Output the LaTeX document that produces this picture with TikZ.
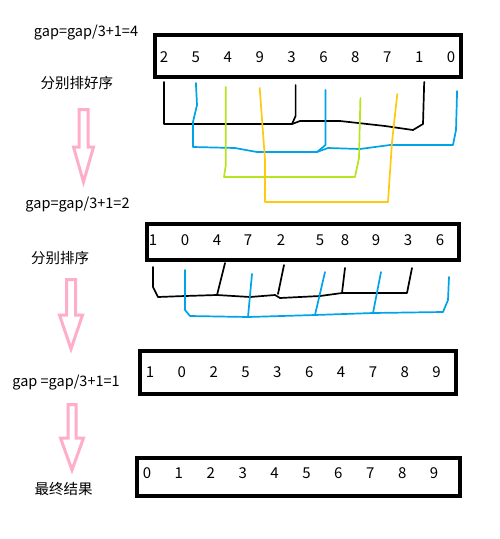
\documentclass[tikz,border=0pt]{standalone}
\usepackage{fontspec}
\setmainfont{Noto Sans CJK SC}
\definecolor{lineblue}{HTML}{00A2E8}
\definecolor{linegreen}{HTML}{B5E61D}
\definecolor{lineyellow}{HTML}{FFC90E}
\definecolor{arrowpink}{HTML}{FFAEC9}

\begin{document}
\begin{tikzpicture}[
                x=1pt, y=-1pt,
                arraybox/.style={draw, line width=3.5pt, minimum width=#1, inner sep=0pt},
                num/.style={font=\fontsize{15}{17}\selectfont, inner sep=0pt, anchor=base},
                lbl/.style={font=\fontsize{14.5}{17}\selectfont, inner sep=0pt},
                kpath/.style={line width=1.7pt, line join=round, line cap=round},
                blk/.style={kpath, black},
                blu/.style={kpath, lineblue},
                grn/.style={kpath, linegreen},
                ylw/.style={kpath, lineyellow},
                hollow/.style={draw=arrowpink, line width=3pt, line join=miter}
            ]
                \useasboundingbox (0,0) rectangle (500,539);

                % the four arrays
                \node[arraybox=306, minimum height=42] (box1) at (308,56) {};
                \node[arraybox=312, minimum height=36] (box2) at (303,242) {};
                \node[arraybox=316, minimum height=43] (box3) at (298,372.5) {};
                \node[arraybox=323, minimum height=38] (box4) at (298.5,477) {};

                \foreach \v [count=\i from 0] in {2,5,4,9,3,6,8,7,1,0}
                    \node[num] (a\i) at (164+31.9*\i,62.5) {\v};
                \foreach \v/\px [count=\i from 0] in {1/153,0/185,4/217,7/248,2/281,5/320,8/345,9/376,3/408,6/440}
                    \node[num] (b\i) at (\px,245.5) {\v};
                \foreach \v [count=\i from 0] in {1,0,2,5,3,6,4,7,8,9}
                    \node[num] (c\i) at (150+31.85*\i,377.5) {\v};
                \foreach \v [count=\i from 0] in {0,1,2,3,4,5,6,7,8,9}
                    \node[num] (d\i) at (147+31.9*\i,478.5) {\v};

                \node[lbl] (gap4) at (86,33) {gap=gap/3+1=4};
                \node[lbl] (sort1) at (77,83) {分别排好序};
                \node[lbl] (gap2) at (77.5,205) {gap=gap/3+1=2};
                \node[lbl] (sort2) at (60,258) {分别排序};
                \node[lbl] (gap1) at (66,383) {gap =gap/3+1=1};
                \node[lbl] (final) at (63.5,489) {最终结果};

                % pink arrows
                \foreach \cx/\ay/\ny/\ty/\sw/\hw in {83.5/109.5/147/182/4.5/10, 71/279.5/315/349/4.5/11.5, 72/404.5/438/470/4/11.5}
                    \draw[hollow] (\cx-\sw,\ay) -- (\cx+\sw,\ay) -- (\cx+\sw,\ny) -- (\cx+\hw,\ny) -- (\cx,\ty) -- (\cx-\hw,\ny) -- (\cx-\sw,\ny) -- cycle;

                % gap 4 groups
                \draw[blk] (a0 |- 0,82) -- (a0 |- 0,124) -- (292,124) -- (300,121) -- (340,121) -- (385,126) -- (413,130) -- (423,124) -- ([xshift=5pt]a8 |- 0,82);
                \draw[blk] ([xshift=4pt]a4 |- 0,85) -- ([xshift=4pt]a4 |- 0,116) -- (292,124);
                \draw[blu] (a1 |- 0,83) -- (197,105) -- (193,122) -- (193,147) -- (235,148) -- (257,152) -- (317,152) -- (328,148) -- (360,149) -- (390,145) -- (453,145) -- (456,130) -- ([xshift=6pt]a9 |- 0,91);
                \draw[blu] ([xshift=2pt]a5 |- 0,90) -- ([xshift=2pt]a5 |- 0,145) -- (317,152);
                \draw[grn] ([xshift=-2pt]a2 |- 0,87) -- ([xshift=-2pt]a2 |- 0,165) -- (224,177) -- (355,177) -- (359,158) -- ([xshift=5pt]a6 |- 0,98);
                \draw[ylw] (a3 |- 0,88) -- (265,160) -- (265,202) -- (388,202) -- (392,142) -- ([xshift=10pt]a7 |- 0,94);

                % gap 2 groups
                \draw[blk] (b0 |- 0,267) -- (153,287) -- (158,297) -- (185,296) -- (217,295) -- (250,297) -- (275,295) -- (280,298) -- (320,296) -- (342,293) -- (407,293) -- ([xshift=4pt]b8 |- 0,268);
                \draw[blk] ([xshift=8pt]b2 |- 0,263) -- (217,295);
                \draw[blk] ([xshift=3pt]b4 |- 0,265) -- (278,294);
                \draw[blk] (b6 |- 0,268) -- (342,293);
                \draw[blu] (b1 |- 0,270) -- (185,310) -- (190,316) -- (248,317) -- (315,315) -- (373,313) -- (443,312) -- (448,300) -- ([xshift=9pt]b9 |- 0,277);
                \draw[blu] ([xshift=4pt]b3 |- 0,274) -- (248,317);
                \draw[blu] ([xshift=5pt]b5 |- 0,272) -- (315,315);
                \draw[blu] ([xshift=5pt]b7 |- 0,272) -- (373,313);
            \end{tikzpicture}
\end{document}
